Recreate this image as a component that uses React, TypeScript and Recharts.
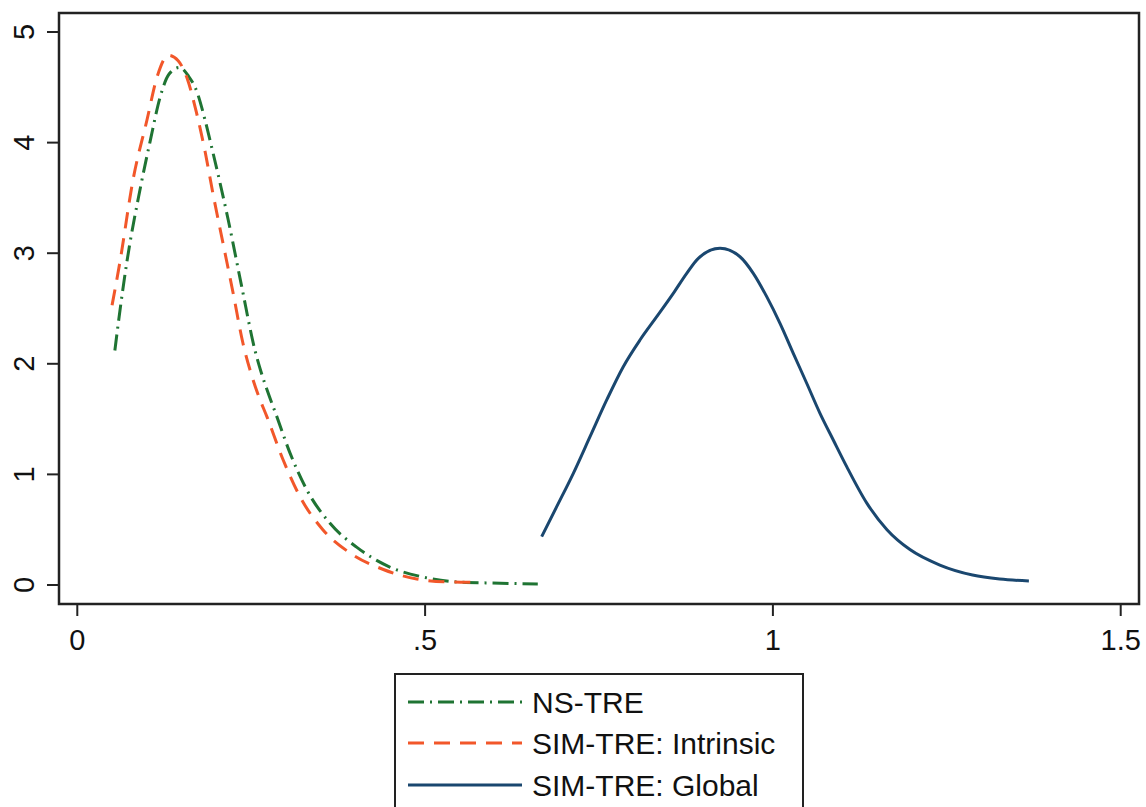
import React from 'react';
import { LineChart, Line, XAxis, YAxis, ReferenceArea } from 'recharts';

// NS-TRE (green, dash-dot)
const nsX = [0.054, 0.059, 0.071, 0.09, 0.105, 0.119, 0.132, 0.147, 0.16, 0.172, 0.183, 0.195, 0.217, 0.2363, 0.2555, 0.264, 0.273, 0.287, 0.306, 0.33, 0.363, 0.402, 0.45, 0.497, 0.546, 0.593, 0.662];
const nsY = [2.12, 2.37, 2.91, 3.57, 4.02, 4.41, 4.62, 4.68, 4.6, 4.46, 4.22, 3.91, 3.3, 2.7, 2.12, 1.93, 1.76, 1.52, 1.19, 0.86, 0.56, 0.34, 0.16, 0.072, 0.027, 0.018, 0.009];

// SIM-TRE: Intrinsic (orange, dashed)
const intrX = [0.05, 0.061, 0.08, 0.1, 0.115, 0.131, 0.145, 0.158, 0.171, 0.184, 0.195, 0.2095, 0.224, 0.238, 0.249, 0.26, 0.2727, 0.296, 0.32, 0.353, 0.392, 0.44, 0.488, 0.536, 0.565];
const intrY = [2.53, 2.91, 3.66, 4.2, 4.6, 4.79, 4.74, 4.58, 4.28, 3.91, 3.54, 3.09, 2.64, 2.19, 1.93, 1.72, 1.52, 1.13, 0.8, 0.5, 0.29, 0.14, 0.054, 0.027, 0.025];

// SIM-TRE: Global (navy, solid)
const globX = [0.6676, 0.6892, 0.7131, 0.7371, 0.7611, 0.7849, 0.8089, 0.833, 0.8568, 0.8761, 0.8928, 0.924, 0.9527, 0.9718, 0.9911, 1.0102, 1.0293, 1.0486, 1.0677, 1.0868, 1.1061, 1.135, 1.164, 1.197, 1.24, 1.287, 1.326, 1.368];
const globY = [0.437, 0.708, 1.01, 1.341, 1.673, 1.974, 2.215, 2.426, 2.637, 2.818, 2.954, 3.044, 2.968, 2.818, 2.607, 2.366, 2.095, 1.824, 1.552, 1.311, 1.07, 0.74, 0.5, 0.32, 0.18, 0.09, 0.054, 0.036];

const xTicks = [0, 0.5, 1, 1.5];
const xTickLabels = ['0', '.5', '1', '1.5'];
const yTicks = [0, 1, 2, 3, 4, 5];
const xDomain = [-0.0263, 1.5263];
const yDomain = [-0.172, 5.172];

const seriesNames = ['NS-TRE', 'SIM-TRE: Intrinsic', 'SIM-TRE: Global'];

const FONT = '"Liberation Sans", Arial, Helvetica, sans-serif';
const GREEN = '#1f7433';
const ORANGE = '#f2572a';
const NAVY = '#1a476f';
const GREEN_DASH = '16 6 2 6';
const ORANGE_DASH = '16 10';

const toPoints = (xs: number[], ys: number[]) => xs.map((x, i) => ({ x, y: ys[i] }));

const YTick = (props: any) => {
  const { x, y, payload } = props;
  const cx = x - 23;
  return (
    <text
      x={cx}
      y={y}
      transform={`rotate(-90 ${cx} ${y})`}
      textAnchor="middle"
      dominantBaseline="central"
      fontSize={29}
      fontFamily={FONT}
      fill="#111"
    >
      {payload.value}
    </text>
  );
};

const LegendBox = () => {
  const rows = [
    { name: seriesNames[0], color: GREEN, dash: GREEN_DASH, y: 702 },
    { name: seriesNames[1], color: ORANGE, dash: ORANGE_DASH, y: 743 },
    { name: seriesNames[2], color: NAVY, dash: undefined, y: 785 },
  ];
  return (
    <svg width={1146} height={807} style={{ position: 'absolute', left: 0, top: 0, pointerEvents: 'none' }}>
      <rect x={395} y={674} width={408} height={160} fill="none" stroke="#222" strokeWidth={2} />
      {rows.map((r) => (
        <g key={r.name}>
          <line x1={408} x2={522} y1={r.y} y2={r.y} stroke={r.color} strokeWidth={3} strokeDasharray={r.dash} />
          <text x={532} y={r.y} dominantBaseline="central" fontSize={30} fontFamily={FONT} fill="#111">
            {r.name}
          </text>
        </g>
      ))}
    </svg>
  );
};

export default function App() {
  const nsData = toPoints(nsX, nsY);
  const intrData = toPoints(intrX, intrY);
  const globData = toPoints(globX, globY);

  return (
    <div style={{ position: 'absolute', left: 0, top: 0, width: 1146, height: 807, overflow: 'hidden', background: '#fff' }}>
      <LineChart width={1146} height={807} margin={{ top: 13, right: 7, left: 0, bottom: 143 }}>
        <XAxis
          dataKey="x"
          type="number"
          domain={xDomain}
          ticks={xTicks}
          allowDataOverflow
          axisLine={false}
          tickSize={12}
          tickMargin={13}
          height={60}
          tickLine={{ stroke: '#222', strokeWidth: 2 }}
          tickFormatter={(v: number) => xTickLabels[xTicks.indexOf(v)] ?? String(v)}
          tick={{ fontSize: 29, fontFamily: FONT, fill: '#111' }}
        />
        <YAxis
          type="number"
          domain={yDomain}
          ticks={yTicks}
          allowDataOverflow
          axisLine={false}
          width={59}
          tickSize={12}
          tickMargin={0}
          tickLine={{ stroke: '#222', strokeWidth: 2 }}
          tick={<YTick />}
        />
        <ReferenceArea
          x1={xDomain[0]}
          x2={xDomain[1]}
          y1={yDomain[0]}
          y2={yDomain[1]}
          fill="none"
          fillOpacity={0}
          stroke="#222"
          strokeWidth={2.5}
          ifOverflow="visible"
        />
        <Line data={nsData} dataKey="y" name={seriesNames[0]} type="monotone" stroke={GREEN} strokeWidth={3} strokeDasharray={GREEN_DASH} dot={false} isAnimationActive={false} />
        <Line data={intrData} dataKey="y" name={seriesNames[1]} type="monotone" stroke={ORANGE} strokeWidth={3} strokeDasharray={ORANGE_DASH} dot={false} isAnimationActive={false} />
        <Line data={globData} dataKey="y" name={seriesNames[2]} type="monotone" stroke={NAVY} strokeWidth={3} dot={false} isAnimationActive={false} />
      </LineChart>
      <LegendBox />
    </div>
  );
}
